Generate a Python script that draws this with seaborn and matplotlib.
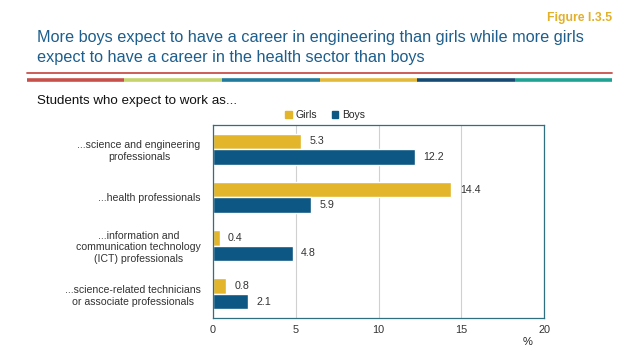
import pandas as pd
import matplotlib.pyplot as plt
import seaborn as sns
from matplotlib import font_manager
from matplotlib.patches import Patch

# Data
categories = [
    '...science and engineering\nprofessionals',
    '...health professionals',
    '...information and\ncommunication technology\n(ICT) professionals',
    '...science-related technicians\nor associate professionals',
]
girls = [5.3, 14.4, 0.4, 0.8]
boys = [12.2, 5.9, 4.8, 2.1]
x_ticks = [0, 5, 10, 15, 20]
stripe_colors = ['#C8504A', '#C5D36A', '#1F7A9C', '#E3B93A', '#154A72', '#1FA294']

GIRLS_C = '#E2B52A'
BOYS_C = '#0C5783'
TITLE_C = '#1D5E8C'

df = pd.DataFrame({
    'category': categories * 2,
    'value': girls + boys,
    'group': ['Girls'] * len(girls) + ['Boys'] * len(boys),
})

sns.set_theme(style='white')

# pick the regular (not narrow) Liberation Sans file
fam = 'DejaVu Sans'
for f in font_manager.fontManager.ttflist:
    if 'liberationsans-regular' in f.fname.lower():
        fam = f.name
        break
plt.rcParams['font.family'] = [fam, 'DejaVu Sans']

fig = plt.figure(figsize=(6.38, 3.59), dpi=100)
ax = fig.add_axes([0.334, 0.114, 0.519, 0.538])

sns.barplot(data=df, y='category', x='value', hue='group', orient='h',
            palette={'Girls': GIRLS_C, 'Boys': BOYS_C}, width=0.64,
            saturation=1, ax=ax, legend=False)

for cont in ax.containers:
    ax.bar_label(cont, fmt='%.1f', padding=6, fontsize=7.7, color='#333333')

ax.set_xlim(0, 20)
ax.set_xticks(x_ticks)
ax.tick_params(axis='x', labelsize=7.8, colors='#333333', length=0, pad=5)
ax.tick_params(axis='y', labelsize=7.6, colors='#333333', length=0, pad=9)
for lab in ax.get_yticklabels():
    lab.set_multialignment('center')
ax.set_xlabel('')
ax.set_ylabel('')
ax.grid(axis='x', color='#D0D0D0', linewidth=0.8)
ax.set_axisbelow(True)
for s in ax.spines.values():
    s.set_color('#2F6F80')
    s.set_linewidth(0.9)

ax.text(0.95, -0.1, '%', transform=ax.transAxes, fontsize=8, ha='center', va='top',
        color='#222222')

# legend
handles = [Patch(color=GIRLS_C, label='Girls'), Patch(color=BOYS_C, label='Boys')]
fig.legend(handles=handles, loc='center', bbox_to_anchor=(0.51, 0.68), ncol=2,
           frameon=False, fontsize=7.5, handlelength=0.6, handleheight=0.6,
           handletextpad=0.4, columnspacing=1.4)

# Titles
fig.text(0.96, 0.95, 'Figure I.3.5', color='#E3B02A', fontsize=8.8,
         ha='right', va='center', fontweight='bold')
fig.text(0.058, 0.867, 'More boys expect to have a career in engineering than girls while more girls\n'
         'expect to have a career in the health sector than boys',
         color=TITLE_C, fontsize=11.7, ha='left', va='center', linespacing=1.4)
fig.text(0.058, 0.72, 'Students who expect to work as...', color='#111111', fontsize=9.6,
         ha='left', va='center')

# decorative stripes
fig.add_artist(plt.Line2D([0.042, 0.96], [0.797, 0.797], color='#C8504A', lw=1.3))
x0, x1 = 0.042, 0.96
step = (x1 - x0) / len(stripe_colors)
for i, c in enumerate(stripe_colors):
    fig.add_artist(plt.Line2D([x0 + i * step, x0 + (i + 1) * step], [0.776, 0.776],
                              color=c, lw=2.6, solid_capstyle='butt'))

fig.savefig('out.png', dpi=100)
